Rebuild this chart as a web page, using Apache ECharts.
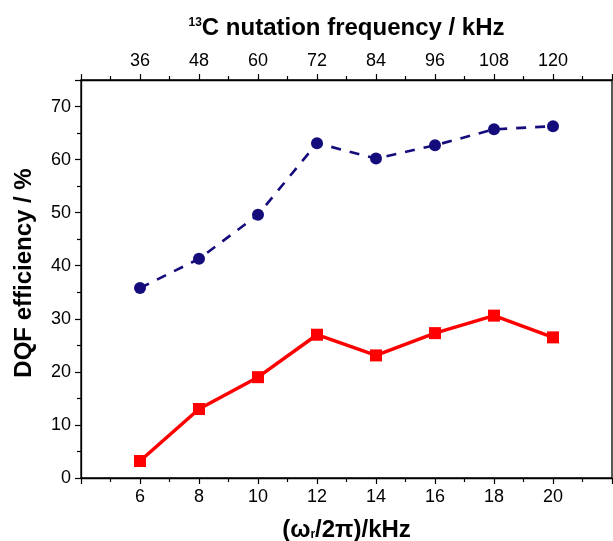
<!DOCTYPE html>
<html>
<head>
<meta charset="utf-8">
<script src="https://cdn.jsdelivr.net/npm/echarts@6/dist/echarts.min.js"></script>
<style>
  html, body { margin: 0; padding: 0; background: #fff; }
  #chart { width: 613px; height: 541px; }
</style>
</head>
<body>
<div id="chart"></div>
<script>
// spinning frequency (bottom axis) and matching 13C nutation frequency (top axis)
const spinRates = [6, 8, 10, 12, 14, 16, 18, 20];
const nutationTicks = [36, 48, 60, 72, 84, 96, 108, 120];

// DQF efficiency in %
const blueEfficiency = [35.8, 41.3, 49.6, 63.1, 60.2, 62.7, 65.7, 66.3];
const redEfficiency = [3.2, 13.0, 19.0, 27.0, 23.1, 27.3, 30.6, 26.5];

const fontFamily = '"Liberation Sans", Arial, sans-serif';

let chart = echarts.init(document.getElementById('chart'), null, { renderer: 'canvas' });

function pairs(xs, ys) {
    return xs.map((x, i) => [x, ys[i]]);
}

const axisLine = { show: true, lineStyle: { color: '#000', width: 1.3 } };
const tickStyle = { color: '#000', width: 1.2 };

let option = {
    animation: false,
    backgroundColor: '#fff',
    grid: {
        left: 81, right: 1, top: 80, bottom: 63,
        outerBoundsMode: 'none', containLabel: false,
        show: true, borderColor: '#000', borderWidth: 1.3, backgroundColor: 'transparent'
    },
    xAxis: [
        {
            type: 'value', position: 'bottom', min: 4, max: 22, interval: 2,
            axisLine: axisLine,
            axisTick: { show: true, inside: false, length: 6, lineStyle: tickStyle },
            minorTick: { show: true, splitNumber: 2, length: 4, lineStyle: tickStyle },
            splitLine: { show: false },
            axisLabel: {
                margin: 10, fontSize: 18, color: '#000', fontFamily: fontFamily,
                formatter: v => spinRates.includes(v) ? String(v) : ''
            },
            name: '{b|(ω}{sub|r}{b|/2π)/kHz}',
            nameLocation: 'middle', nameGap: 40,
            nameTextStyle: {
                rich: {
                    b: { fontSize: 24, fontWeight: 'bold', color: '#000', fontFamily: fontFamily },
                    sub: { fontSize: 12, fontWeight: 'bold', color: '#000', fontFamily: fontFamily, padding: [10, 0, 0, 0] }
                }
            }
        },
        {
            type: 'value', position: 'top', min: 24, max: 132, interval: 12,
            axisLine: axisLine,
            axisTick: { show: true, inside: false, length: 6, lineStyle: tickStyle },
            minorTick: { show: true, splitNumber: 2, length: 4, lineStyle: tickStyle },
            splitLine: { show: false },
            axisLabel: {
                margin: 10, fontSize: 18, color: '#000', fontFamily: fontFamily,
                formatter: v => nutationTicks.includes(v) ? String(v) : ''
            },
            name: '{sup|13}{b|C nutation frequency / kHz}',
            nameLocation: 'middle', nameGap: 40,
            nameTextStyle: {
                rich: {
                    b: { fontSize: 24, fontWeight: 'bold', color: '#000', fontFamily: fontFamily },
                    sup: { fontSize: 12, fontWeight: 'bold', color: '#000', fontFamily: fontFamily, padding: [0, 0, 10, 0] }
                }
            }
        }
    ],
    yAxis: {
        type: 'value', min: 0, max: 75, interval: 10,
        axisLine: axisLine,
        axisTick: { show: true, inside: false, length: 6, lineStyle: tickStyle },
        minorTick: { show: true, splitNumber: 2, length: 4, lineStyle: tickStyle },
        splitLine: { show: false },
        axisLabel: {
            margin: 10, fontSize: 18, color: '#000', fontFamily: fontFamily,
            formatter: v => (v % 10 === 0) ? String(v) : ''
        },
        name: 'DQF efficiency / %',
        nameLocation: 'middle', nameGap: 45,
        nameTextStyle: { fontSize: 24, fontWeight: 'bold', color: '#000', fontFamily: fontFamily, padding: [0, 0, 0, 12] }
    },
    series: [
        {
            type: 'line', xAxisIndex: 0,
            data: pairs(spinRates, blueEfficiency),
            symbol: 'circle', symbolSize: 12,
            itemStyle: { color: '#150c7c' },
            lineStyle: { color: '#150c7c', width: 2.6, type: [10, 9] }
        },
        {
            type: 'line', xAxisIndex: 0,
            data: pairs(spinRates, redEfficiency),
            symbol: 'rect', symbolSize: 12,
            itemStyle: { color: '#ff0000' },
            lineStyle: { color: '#ff0000', width: 3.5 }
        }
    ]
};

chart.setOption(option);
</script>
</body>
</html>
